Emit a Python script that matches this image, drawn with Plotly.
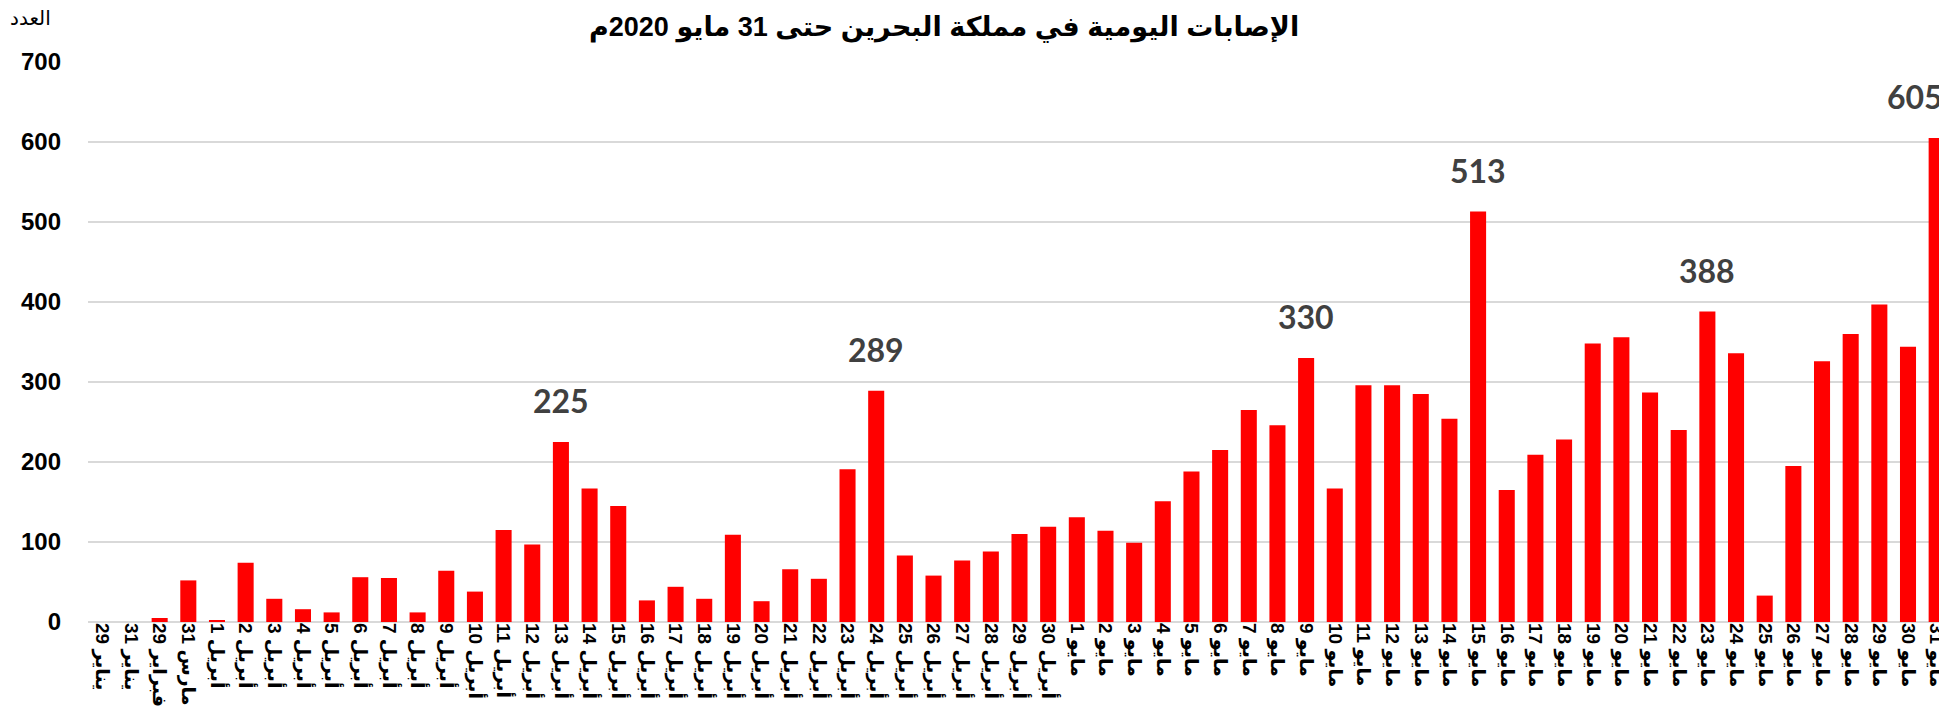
import plotly.graph_objects as go

early_days = ["29 يناير", "31 يناير", "29 فبراير", "31 مارس"]
early_values = [0, 0, 5, 52]

april_days = [f"{d} أبريل" for d in range(1, 31)]
april_values = [2, 74, 29, 16, 12, 56, 55, 12, 64, 38,
                115, 97, 225, 167, 145, 27, 44, 29, 109, 26,
                66, 54, 191, 289, 83, 58, 77, 88, 110, 119]

may_days = [f"{d} مايو" for d in range(1, 32)]
may_values = [131, 114, 99, 151, 188, 215, 265, 246, 330, 167,
              296, 296, 285, 254, 513, 165, 209, 228, 348, 356,
              287, 240, 388, 336, 33, 195, 326, 360, 397, 344, 605]

categories = early_days + april_days + may_days
values = early_values + april_values + may_values

labelled = ["13 أبريل", "24 أبريل", "9 مايو", "15 مايو", "23 مايو", "31 مايو"]

title_text = "الإصابات اليومية في مملكة البحرين حتى 31 مايو 2020م"
y_title = "العدد"
y_ticks = [0, 100, 200, 300, 400, 500, 600, 700]

fig = go.Figure()
fig.add_trace(go.Bar(
    x=categories, y=values,
    marker=dict(color="#ff0000", line=dict(width=0)),
    hoverinfo="skip",
))

for c, v in zip(categories, values):
    if c in labelled:
        last = c == categories[-1]
        fig.add_annotation(
            x=c, y=v, text=str(v), showarrow=False,
            yanchor="bottom", yshift=20,
            xanchor="right" if last else "center", xshift=8 if last else 0,
            font=dict(family="Lato, 'Open Sans', sans-serif", size=32, color="#404040", weight="bold"),
        )

fig.add_annotation(
    text=title_text, xref="paper", yref="paper", x=0.4596, y=1, yshift=35,
    xanchor="center", yanchor="middle", showarrow=False,
    font=dict(family="Arial, 'Liberation Sans', 'DejaVu Sans', sans-serif", size=27, color="#000000", weight="bold"),
)
fig.add_annotation(
    text=y_title, xref="paper", yref="paper", x=0, xshift=-80, y=1, yshift=44,
    xanchor="left", yanchor="middle", showarrow=False,
    font=dict(family="Arial, 'Liberation Sans', 'DejaVu Sans', sans-serif", size=20, color="#000000"),
)

fig.update_layout(
    width=1947, height=708,
    margin=dict(l=80, r=4, t=54, b=94),
    paper_bgcolor="white", plot_bgcolor="white",
    bargap=0.44,
    showlegend=False,
    xaxis=dict(
        type="category", tickangle=90,
        tickfont=dict(family="Arial, 'Liberation Sans', 'DejaVu Sans', sans-serif", size=19, color="#000000", weight="bold"),
        showgrid=False, showline=False, ticks="", zeroline=False,
    ),
    yaxis=dict(
        range=[0, 700], tickvals=y_ticks,
        tickfont=dict(family="Arial, 'Liberation Sans', sans-serif", size=24, color="#000000", weight="bold"),
        showgrid=True, gridcolor="#d9d9d9", gridwidth=2,
        zeroline=True, zerolinecolor="#d9d9d9", zerolinewidth=2,
        showline=False, ticks="", ticklabelstandoff=26,
    ),
)

fig.write_html("out.html")
